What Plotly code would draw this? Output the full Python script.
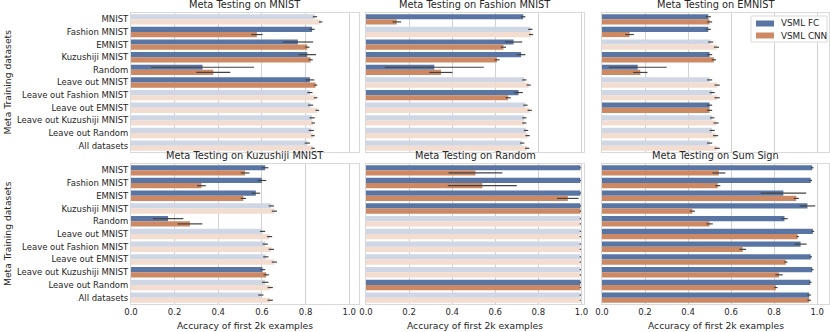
import plotly.graph_objects as go
from plotly.subplots import make_subplots

# meta training datasets (rows of every panel)
train_sets = ['MNIST', 'Fashion MNIST', 'EMNIST', 'Kuzushiji MNIST', 'Random',
              'Leave out MNIST', 'Leave out Fashion MNIST', 'Leave out EMNIST',
              'Leave out Kuzushiji MNIST', 'Leave out Random', 'All datasets']

test_sets = ['MNIST', 'Fashion MNIST', 'EMNIST', 'Kuzushiji MNIST', 'Random', 'Sum Sign']

# accuracy values, one list per test set
fc_mean = {
    'MNIST':           [0.843, 0.830, 0.765, 0.808, 0.328, 0.820, 0.820, 0.823, 0.830, 0.826, 0.808],
    'Fashion MNIST':   [0.730, 0.763, 0.685, 0.720, 0.317, 0.735, 0.708, 0.740, 0.735, 0.743, 0.725],
    'EMNIST':          [0.494, 0.494, 0.505, 0.500, 0.166, 0.500, 0.512, 0.500, 0.512, 0.512, 0.500],
    'Kuzushiji MNIST': [0.615, 0.600, 0.572, 0.643, 0.170, 0.603, 0.615, 0.618, 0.603, 0.615, 0.595],
    'Random':          [0.995, 0.995, 0.995, 0.995, 0.995, 0.995, 0.995, 0.995, 0.995, 0.995, 0.995],
    'Sum Sign':        [0.977, 0.970, 0.843, 0.955, 0.848, 0.980, 0.923, 0.970, 0.977, 0.968, 0.963],
}
fc_err = {
    'MNIST':           [0.010, 0.012, 0.070, 0.040, 0.236, 0.020, 0.012, 0.012, 0.012, 0.012, 0.012],
    'Fashion MNIST':   [0.010, 0.010, 0.040, 0.020, 0.230, 0.010, 0.020, 0.010, 0.010, 0.010, 0.010],
    'EMNIST':          [0.012, 0.012, 0.012, 0.012, 0.135, 0.012, 0.012, 0.012, 0.010, 0.012, 0.012],
    'Kuzushiji MNIST': [0.015, 0.020, 0.020, 0.012, 0.070, 0.012, 0.012, 0.012, 0.012, 0.015, 0.012],
    'Random':          [0.003, 0.003, 0.003, 0.003, 0.003, 0.003, 0.003, 0.003, 0.003, 0.003, 0.003],
    'Sum Sign':        [0.006, 0.006, 0.106, 0.036, 0.015, 0.006, 0.028, 0.006, 0.006, 0.006, 0.008],
}
cnn_mean = {
    'MNIST':           [0.869, 0.577, 0.808, 0.823, 0.377, 0.846, 0.846, 0.854, 0.835, 0.834, 0.834],
    'Fashion MNIST':   [0.143, 0.766, 0.638, 0.608, 0.348, 0.755, 0.660, 0.760, 0.735, 0.750, 0.748],
    'EMNIST':          [0.500, 0.128, 0.532, 0.520, 0.178, 0.535, 0.535, 0.500, 0.530, 0.528, 0.535],
    'Kuzushiji MNIST': [0.523, 0.323, 0.515, 0.657, 0.270, 0.635, 0.643, 0.657, 0.620, 0.638, 0.638],
    'Random':          [0.508, 0.540, 0.937, 0.995, 0.995, 0.995, 0.995, 0.995, 0.995, 0.995, 0.995],
    'Sum Sign':        [0.543, 0.538, 0.903, 0.420, 0.500, 0.909, 0.654, 0.854, 0.823, 0.808, 0.963],
}
cnn_err = {
    'MNIST':           [0.008, 0.026, 0.010, 0.010, 0.078, 0.008, 0.008, 0.008, 0.008, 0.008, 0.008],
    'Fashion MNIST':   [0.020, 0.010, 0.012, 0.012, 0.054, 0.010, 0.012, 0.010, 0.010, 0.010, 0.010],
    'EMNIST':          [0.012, 0.020, 0.012, 0.010, 0.033, 0.012, 0.012, 0.012, 0.012, 0.012, 0.012],
    'Kuzushiji MNIST': [0.020, 0.020, 0.012, 0.012, 0.057, 0.012, 0.012, 0.012, 0.012, 0.012, 0.012],
    'Random':          [0.125, 0.160, 0.050, 0.003, 0.003, 0.003, 0.003, 0.003, 0.003, 0.003, 0.003],
    'Sum Sign':        [0.030, 0.012, 0.012, 0.012, 0.015, 0.006, 0.016, 0.008, 0.017, 0.008, 0.008],
}

# rows drawn at full colour (the rest are faded)
highlight = {
    'MNIST':           ['Fashion MNIST', 'EMNIST', 'Kuzushiji MNIST', 'Random', 'Leave out MNIST'],
    'Fashion MNIST':   ['MNIST', 'EMNIST', 'Kuzushiji MNIST', 'Random', 'Leave out Fashion MNIST'],
    'EMNIST':          ['MNIST', 'Fashion MNIST', 'Kuzushiji MNIST', 'Random', 'Leave out EMNIST'],
    'Kuzushiji MNIST': ['MNIST', 'Fashion MNIST', 'EMNIST', 'Random', 'Leave out Kuzushiji MNIST'],
    'Random':          ['MNIST', 'Fashion MNIST', 'EMNIST', 'Kuzushiji MNIST', 'Leave out Random'],
    'Sum Sign':        train_sets,
}

series_names = ['VSML FC', 'VSML CNN']

FC, FC_LIGHT = '#5975A4', '#CFD6E4'
CNN, CNN_LIGHT = '#CC8963', '#F3DCD0'
TXT = '#262626'
FONT = 'DejaVu Sans'

fig = make_subplots(rows=2, cols=3, horizontal_spacing=0.01, vertical_spacing=0.04)

for i, ts in enumerate(test_sets):
    r, c = i // 3 + 1, i % 3 + 1
    hl = [t in highlight[ts] for t in train_sets]
    fig.add_trace(go.Bar(
        y=train_sets, x=fc_mean[ts], orientation='h', name=series_names[0],
        marker=dict(color=[FC if h else FC_LIGHT for h in hl], line_width=0),
        error_x=dict(type='data', array=fc_err[ts], color='#424242', thickness=1.2, width=0),
        offsetgroup='fc', showlegend=False,
    ), row=r, col=c)
    fig.add_trace(go.Bar(
        y=train_sets, x=cnn_mean[ts], orientation='h', name=series_names[1],
        marker=dict(color=[CNN if h else CNN_LIGHT for h in hl], line_width=0),
        error_x=dict(type='data', array=cnn_err[ts], color='#424242', thickness=1.2, width=0),
        offsetgroup='cnn', showlegend=False,
    ), row=r, col=c)

W, H = 830, 332
x_dom = [(131, 359), (366, 584), (602, 829)]
y_dom = [(13, 152), (164, 304)]
x_max = [1.045, 1.012, 1.055]

for r in range(2):
    for c in range(3):
        fig.update_xaxes(
            domain=[x_dom[c][0] / W, x_dom[c][1] / W], range=[0, x_max[c]],
            tickvals=[0, 0.2, 0.4, 0.6, 0.8, 1.0], tickformat='.1f',
            showticklabels=(r == 1), showgrid=True, gridcolor='#d2d2d2', gridwidth=1,
            zeroline=False, showline=True, mirror=True, linecolor='#d9d9d9', linewidth=1,
            ticks='', automargin=False, tickfont=dict(size=8.5, color=TXT, family=FONT),
            row=r + 1, col=c + 1)
        fig.update_yaxes(
            domain=[1 - y_dom[r][1] / H, 1 - y_dom[r][0] / H],
            categoryorder='array', categoryarray=train_sets, autorange='reversed',
            showticklabels=(c == 0), showgrid=False, zeroline=False,
            showline=True, mirror=True, linecolor='#d9d9d9', linewidth=1,
            ticks='', automargin=False, tickfont=dict(size=8.5, color=TXT, family=FONT),
            row=r + 1, col=c + 1)

annotations = []
for i, ts in enumerate(test_sets):
    r, c = i // 3, i % 3
    annotations.append(dict(
        text=f'Meta Testing on {ts}', xref='paper', yref='paper',
        x=(x_dom[c][0] + x_dom[c][1]) / 2 / W, y=1 - y_dom[r][0] / H + 0.003,
        xanchor='center', yanchor='bottom', showarrow=False,
        font=dict(size=9.8, color=TXT, family=FONT)))
for c in range(3):
    annotations.append(dict(
        text='Accuracy of first 2k examples', xref='paper', yref='paper',
        x=(x_dom[c][0] + x_dom[c][1]) / 2 / W, y=1 - 325 / H,
        xanchor='center', yanchor='middle', showarrow=False,
        font=dict(size=9.2, color=TXT, family=FONT)))
for r in range(2):
    annotations.append(dict(
        text='Meta Training datasets', xref='paper', yref='paper', textangle=-90,
        x=7 / W, y=1 - (y_dom[r][0] + y_dom[r][1]) / 2 / H,
        xanchor='center', yanchor='middle', showarrow=False,
        font=dict(size=9.2, color=TXT, family=FONT)))

# compact legend box drawn by hand (plotly's own legend rows are taller)
shapes = [dict(type='rect', xref='paper', yref='paper',
               x0=751 / W, x1=827 / W, y0=1 - 42 / H, y1=1 - 16 / H,
               line=dict(color='#d9d9d9', width=1), fillcolor='white', layer='above')]
for k, (name, col) in enumerate(zip(series_names, [FC, CNN])):
    yc = 23.5 + k * 12
    shapes.append(dict(type='rect', xref='paper', yref='paper',
                       x0=756 / W, x1=774 / W, y0=1 - (yc + 3) / H, y1=1 - (yc - 3) / H,
                       line_width=0, fillcolor=col, layer='above'))
    annotations.append(dict(
        text=name, xref='paper', yref='paper', x=779 / W, y=1 - yc / H,
        xanchor='left', yanchor='middle', showarrow=False,
        font=dict(size=8.8, color=TXT, family=FONT)))

fig.update_layout(
    width=W, height=H, margin=dict(l=0, r=0, t=0, b=0, autoexpand=False),
    paper_bgcolor='white', plot_bgcolor='white',
    barmode='group', bargap=0.18, bargroupgap=0,
    font=dict(family=FONT, color=TXT),
    annotations=annotations, shapes=shapes, showlegend=False,
)

# the page body has a default 8px margin; drop it so the figure fills the window
fig.write_html("out.html", config={'displayModeBar': False},
               post_script="document.body.style.margin='0';")
